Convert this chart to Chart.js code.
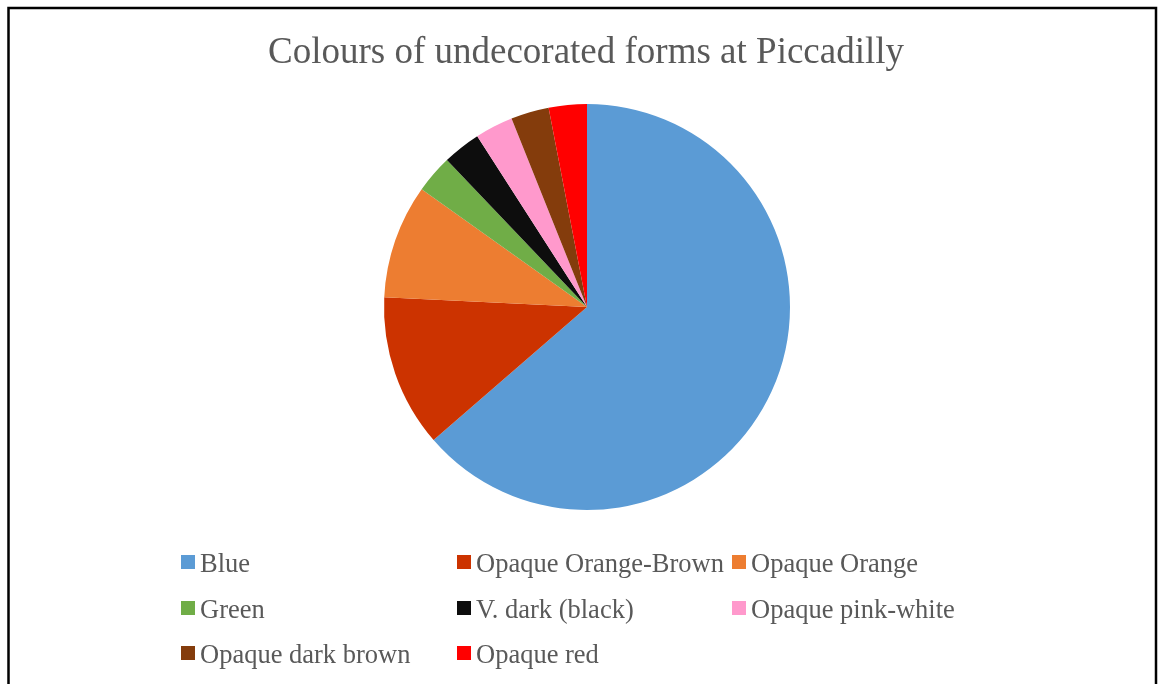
<!DOCTYPE html>
<html>
<head>
<meta charset="utf-8">
<script src="https://cdn.jsdelivr.net/npm/chart.js@4/dist/chart.umd.min.js"></script>
<style>
html,body{margin:0;padding:0;background:#fff;}
#wrap{width:1168px;height:684px;position:relative;}
</style>
</head>
<body>
<div id="wrap"><canvas id="c" width="1168" height="684"></canvas></div>
<script>
const titleText = "Colours of undecorated forms at Piccadilly";
const categories = ["Blue","Opaque Orange-Brown","Opaque Orange","Green","V. dark (black)","Opaque pink-white","Opaque dark brown","Opaque red"];
const counts = [21,4,3,1,1,1,1,1];
const colors = ["#5B9BD5","#CC3300","#ED7D31","#70AD47","#0D0D0D","#FF99CC","#843C0C","#FF0000"];

const FONT = "'Liberation Serif','Times New Roman',serif";
const TEXT = "#595959";

const decor = {
  id: 'decor',
  afterDraw(chart) {
    const ctx = chart.ctx;
    ctx.save();
    // frame
    ctx.strokeStyle = "#000";
    ctx.lineWidth = 2.5;
    ctx.strokeRect(8.5, 8, 1147.5, 700);
    // title
    ctx.fillStyle = TEXT;
    ctx.font = "37px " + FONT;
    ctx.textAlign = "center";
    ctx.textBaseline = "middle";
    ctx.fillText(titleText, 586, 53);
    // legend
    const colX = [181, 457, 732];
    const rowY = [562, 608, 653];
    ctx.font = "26.5px " + FONT;
    ctx.textAlign = "left";
    categories.forEach((name, i) => {
      const x = colX[i % 3], y = rowY[Math.floor(i / 3)];
      ctx.fillStyle = colors[i];
      ctx.fillRect(x, y - 7, 14, 14);
      ctx.fillStyle = TEXT;
      ctx.fillText(name, x + 19, y + 3);
    });
    ctx.restore();
  }
};

new Chart(document.getElementById('c'), {
  type: 'pie',
  data: {
    labels: categories,
    datasets: [{ data: counts, backgroundColor: colors, borderWidth: 0 }]
  },
  options: {
    responsive: false,
    animation: false,
    layout: { padding: { top: 104, bottom: 174, left: 6, right: 0 } },
    plugins: { legend: { display: false }, title: { display: false }, tooltip: { enabled: false } }
  },
  plugins: [decor]
});
</script>
</body>
</html>
